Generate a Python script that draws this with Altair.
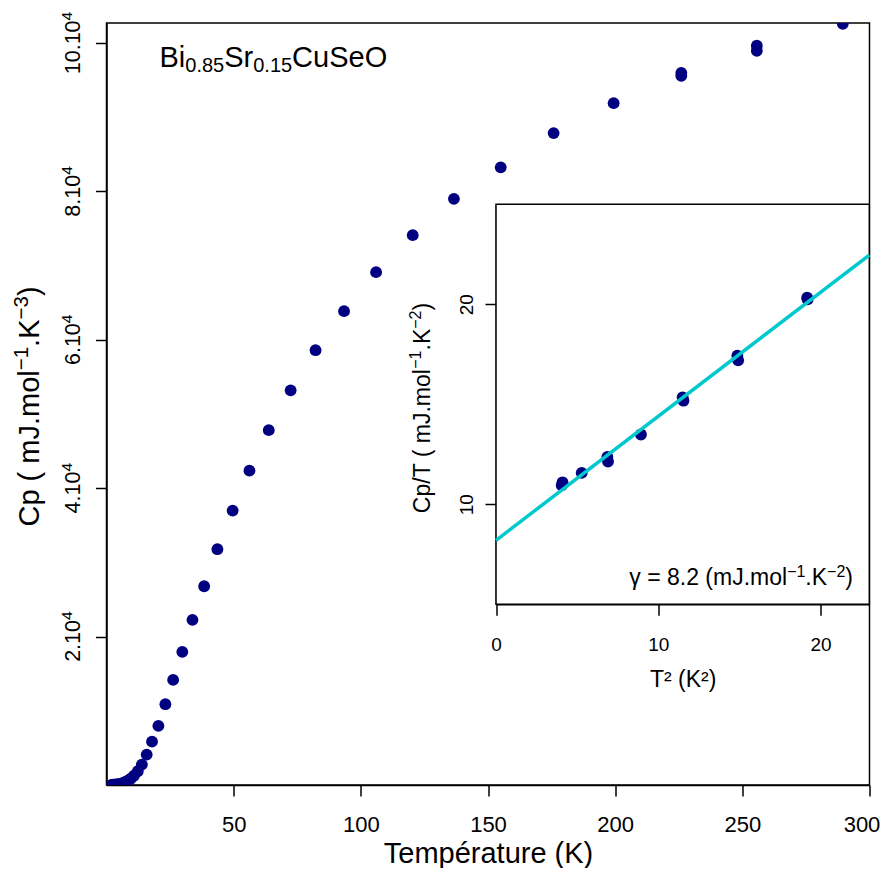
import altair as alt
import pandas as pd

FONT = "Liberation Sans"
NAVY = "#000080"
CYAN = "#00C8CC"

# ---------------- data ----------------
# main panel: temperature (K) and heat capacity (mJ/mol/K)
temperature = [2.02, 2.3, 2.62, 2.99, 3.39, 3.86, 4.38, 5.07, 5.75, 6.5, 7.4, 8.4,
               9.5, 10.8, 12.3, 13.9, 15.8, 17.9, 20.4, 23.15, 26.2, 29.8, 33.8,
               38.4, 43.6, 49.6, 56.2, 63.8, 72.4, 82.2, 93.4, 106.0, 120.4, 136.6,
               155.0, 175.8, 199.4, 226.0, 226.0, 255.7, 255.7, 289.5]
cp = [22, 27, 32, 40, 52, 67, 89, 130, 190, 270, 400, 580,
      850, 1250, 1850, 2750, 4100, 5840, 7960, 10890, 14160, 17940, 22250,
      26790, 31780, 36980, 42370, 47820, 53190, 58600, 63860, 69120, 74110, 79000,
      83250, 87860, 91900, 95580, 95980, 98960, 99630, 102590]

# inset: T^2 (K^2) and Cp/T (mJ/mol/K^2)
t2 = [4.05, 4.1, 5.28, 6.86, 6.9, 8.93, 11.5, 11.55, 14.87, 14.92, 19.17, 19.2]
cp_over_t = [10.95, 11.1, 11.57, 12.37, 12.14, 13.49, 15.35, 15.18, 17.43, 17.2, 20.33, 20.25]

# linear fit Cp/T = gamma + beta T^2
fit_x = [0, 23]
fit_y = [8.2, 8.2 + 0.62 * 23]

x_ticks = [50, 100, 150, 200, 250, 300]
y_ticks = [20000, 40000, 60000, 80000, 100000]
y_tick_text = ["2.10", "4.10", "6.10", "8.10", "10.10"]
inset_x_ticks = [0, 10, 20]
inset_y_ticks = [10, 20]

main_df = pd.DataFrame({"T": temperature, "Cp": cp})
inset_df = pd.DataFrame({"T2": t2, "CpT": cp_over_t})
fit_df = pd.DataFrame({"T2": fit_x, "CpT": fit_y})
box_df = pd.DataFrame({"x0": [0], "x1": [23], "y0": [5], "y1": [25]})
ylab_df = pd.DataFrame({"v": y_ticks, "t": y_tick_text})

# ---------------- layout ----------------
W, H = 763, 762
PAD_L, PAD_T = 98.5, 15
OX, OY = 8 + PAD_L, 8 + PAD_T          # page position of the plot origin
INSET_L = 496 - OX
INSET_R = 869.3 - OX
INSET_T = 204.3 - OY
INSET_B = 604.3 - OY

# Arial / Liberation Sans advance widths (per 1000 em)
WIDTHS = {" ": 278, "(": 333, ")": 333, ".": 278, "/": 278, "=": 584, "−": 584,
          "C": 722, "p": 556, "m": 833, "J": 500, "o": 556, "l": 222, "K": 667,
          "T": 611, "B": 667, "i": 222, "S": 667, "r": 333, "u": 556, "e": 556,
          "O": 778, "γ": 500}


def text_width(s, size):
    return sum(WIDTHS.get(ch, 556) for ch in s) / 1000 * size


def rich(pieces, x, y, angle=0, anchor="left"):
    """Several text pieces (text, size, raise) laid out along one baseline."""
    total = sum(text_width(t, s) for t, s, _ in pieces)
    pos = {"left": 0, "center": -total / 2, "right": -total}[anchor]
    layers = []
    for t, s, r in pieces:
        layers.append(
            alt.Chart(pd.DataFrame({"t": [t]})).mark_text(
                font=FONT, fontSize=s, align="left", baseline="alphabetic",
                angle=angle, dx=pos, dy=-r, color="black",
            ).encode(text="t:N", x=alt.value(x), y=alt.value(y))
        )
        pos += text_width(t, s)
    return layers


common_axis = dict(
    labelFont=FONT, titleFont=FONT, labelColor="black", titleColor="black",
    titleFontWeight="normal", tickColor="black", tickWidth=1.5, tickSize=11,
    domainColor="black", domainWidth=1.5, grid=False, labelFlush=False,
    labelOverlap=False,
)

main_x_axis = alt.Axis(
    orient="bottom", values=x_ticks, title="Température (K)",
    titleFontSize=29, titleBaseline="alphabetic", titleAlign="center",
    titleX=W / 2, titleY=77,
    labelFontSize=22, labelBaseline="alphabetic", labelAlign="center",
    labelPadding=35.5,
    labelOffset={"condition": {"test": "datum.value == 300", "value": -8}, "value": 0},
    **common_axis,
)
main_y_axis = alt.Axis(orient="left", values=y_ticks, labels=False, title=None,
                       **common_axis)

inset_x_axis = alt.Axis(
    orient="bottom", values=inset_x_ticks, offset=-(H - INSET_B),
    title="T² (K²)", titleFontSize=23, titleBaseline="alphabetic",
    titleAlign="center", titleX=(INSET_L + INSET_R) / 2, titleY=81.7,
    labelFontSize=19, labelBaseline="alphabetic", labelAlign="center",
    labelPadding=34.7, **common_axis,
)
inset_y_axis = alt.Axis(
    orient="left", values=inset_y_ticks, offset=-INSET_L, title=None,
    labelFontSize=19, labelAngle=270, labelAlign="center",
    labelBaseline="alphabetic", labelPadding=13, **common_axis,
)

main_xs = alt.Scale(domain=[0, 300], nice=False, zero=False)
main_ys = alt.Scale(domain=[0, 102700], nice=False, zero=False)
ins_xs = alt.Scale(domain=[0, 23], range=[INSET_L, INSET_R], nice=False, zero=False)
ins_ys = alt.Scale(domain=[5, 25], range=[INSET_B, INSET_T], nice=False, zero=False)

# ---------------- main panel ----------------
main_points = alt.Chart(main_df).mark_circle(
    color=NAVY, opacity=1, size=140, clip=True
).encode(
    x=alt.X("T:Q", scale=main_xs, axis=main_x_axis),
    y=alt.Y("Cp:Q", scale=main_ys, axis=main_y_axis),
)

# y tick labels  "n.10^4"  (rotated, with a raised 4)
LAB, SUP = 21.5, 15.5
w_sup = text_width("4", SUP)
ylab_base = alt.Chart(ylab_df).mark_text(
    font=FONT, fontSize=LAB, align="center", baseline="alphabetic", angle=270,
    dx=-w_sup / 2, color="black",
).encode(text="t:N", x=alt.value(80 - OX),
         y=alt.Y("v:Q", scale=main_ys, axis=main_y_axis))
ylab_sups = []
for short in (True, False):
    sub = ylab_df[(ylab_df["t"].str.len() == 4) == short]
    w_base = text_width(sub["t"].iloc[0], LAB)
    ylab_sups.append(
        alt.Chart(sub).mark_text(
            font=FONT, fontSize=SUP, align="left", baseline="alphabetic",
            angle=270, dx=w_base / 2 - w_sup / 2, dy=-8.3, color="black",
        ).encode(text=alt.value("4"), x=alt.value(80 - OX),
                 y=alt.Y("v:Q", scale=main_ys, axis=main_y_axis))
    )

# y axis title  Cp ( mJ.mol^-1.K^-3)
TS, TSS, TR = 29, 20.5, 11
ytitle = rich([("Cp ( mJ.mol", TS, 0), ("−1", TSS, TR), (".K", TS, 0),
               ("−3", TSS, TR), (")", TS, 0)],
              x=39 - OX, y=406.5 - OY, angle=270, anchor="center")

# compound label Bi0.85Sr0.15CuSeO with subscripts
compound = rich([("Bi", 29, 0), ("0.85", 20, -5), ("Sr", 29, 0),
                 ("0.15", 20, -5), ("CuSeO", 29, 0)],
                x=159.5 - OX, y=66.7 - OY)

main_layer = alt.layer(main_points, ylab_base, *ylab_sups, *ytitle, *compound)

# ---------------- inset ----------------
box = alt.Chart(box_df).mark_rect(
    fill="white", stroke="black", strokeWidth=1.5
).encode(
    x=alt.X("x0:Q", scale=ins_xs, axis=inset_x_axis),
    x2="x1:Q",
    y=alt.Y("y0:Q", scale=ins_ys, axis=inset_y_axis),
    y2="y1:Q",
)
ins_points = alt.Chart(inset_df).mark_circle(
    color=NAVY, opacity=1, size=140
).encode(
    x=alt.X("T2:Q", scale=ins_xs, axis=inset_x_axis),
    y=alt.Y("CpT:Q", scale=ins_ys, axis=inset_y_axis),
)
fit_line = alt.Chart(fit_df).mark_line(
    color=CYAN, strokeWidth=3.5
).encode(
    x=alt.X("T2:Q", scale=ins_xs, axis=inset_x_axis),
    y=alt.Y("CpT:Q", scale=ins_ys, axis=inset_y_axis),
)

IS, ISS, IR = 23, 16, 8.5
inset_ytitle = rich([("Cp/T ( mJ.mol", IS, 0), ("−1", ISS, IR), (".K", IS, 0),
                     ("−2", ISS, IR), (")", IS, 0)],
                    x=429.5 - OX, y=408 - OY, angle=270, anchor="center")
gamma = rich([("γ = 8.2 (mJ.mol", IS, 0), ("−1", ISS, IR), (".K", IS, 0),
              ("−2", ISS, IR), (")", IS, 0)],
             x=853 - OX, y=585 - OY, anchor="right")

inset_layer = alt.layer(box, ins_points, fit_line, *inset_ytitle, *gamma)

chart = alt.layer(main_layer, inset_layer).resolve_scale(
    x="independent", y="independent"
).properties(
    width=W, height=H,
    autosize=alt.AutoSizeParams(type="none"),
    padding={"left": PAD_L, "top": PAD_T, "right": 888 - 16 - PAD_L - W,
             "bottom": 876 - 16 - PAD_T - H},
    background="white",
).configure_view(stroke="black", strokeWidth=1.5)

chart.save("out.html", embed_options={"renderer": "svg", "actions": False})
